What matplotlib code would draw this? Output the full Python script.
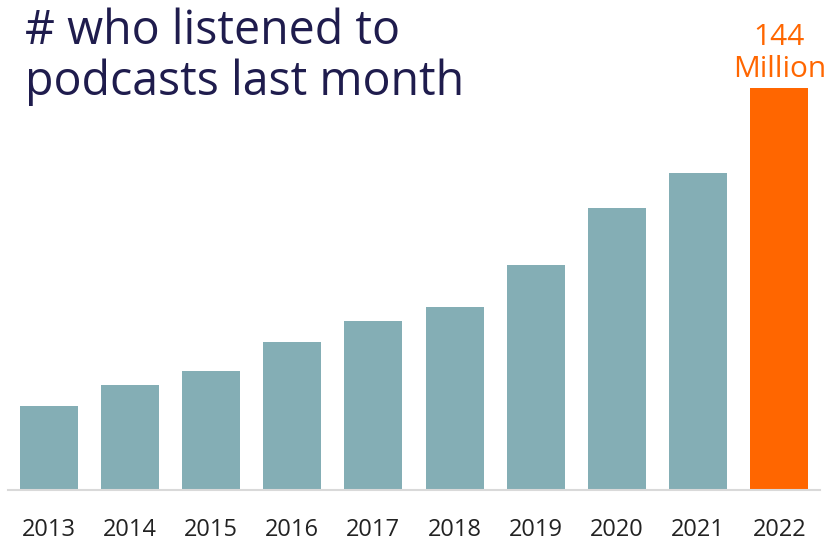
import matplotlib
matplotlib.use('Agg')
import matplotlib.pyplot as plt

# Datos (millones de oyentes mensuales)
years = ['2013', '2014', '2015', '2016', '2017', '2018', '2019', '2020', '2021', '2022']
listeners = [30, 37.6, 42.6, 53, 60.5, 65.6, 80.6, 101, 113.5, 144]
highlight_label = '144\nMillion'

plt.rcParams['font.family'] = ['Open Sans', 'DejaVu Sans']

fig = plt.figure(figsize=(8.28, 5.45), dpi=100)
ax = fig.add_axes([8 / 828, 55 / 545, 812 / 828, 402 / 545])

colors = ['#84aeb5'] * (len(years) - 1) + ['#ff6600']
x = range(len(years))
ax.bar(x, listeners, width=0.715, color=colors)

ax.set_xlim(-0.5, len(years) - 0.5)
ax.set_ylim(0, max(listeners))
ax.set_xticks(list(x))
ax.set_xticklabels(years, fontsize=17, color='#222222')
ax.tick_params(axis='x', length=0, pad=20)
ax.set_yticks([])

for side in ['top', 'right', 'left']:
    ax.spines[side].set_visible(False)
ax.spines['bottom'].set_color('#d9d9d9')
ax.spines['bottom'].set_linewidth(1.5)

# Etiqueta de la última barra
ax.annotate(highlight_label, xy=(len(years) - 1, listeners[-1]), xytext=(0, 3),
            textcoords='offset points', ha='center', va='bottom',
            fontsize=21.5, color='#ff6600', linespacing=1.15, annotation_clip=False)

# Título
fig.text(25 / 828, 1 - 7 / 545, '# who listened to\npodcasts last month',
         ha='left', va='top', fontsize=33.5, color='#1f1c4d', linespacing=1.12)

fig.savefig('out.png', dpi=100)
